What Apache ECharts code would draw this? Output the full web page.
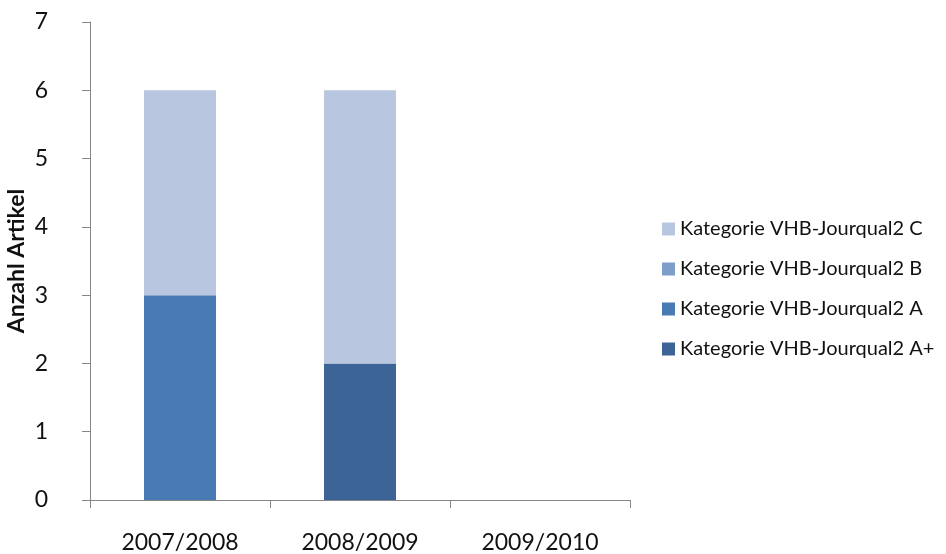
<!DOCTYPE html>
<html>
<head>
<meta charset="utf-8">
<script src="https://cdn.jsdelivr.net/npm/echarts@6/dist/echarts.min.js"></script>
<style>
  html, body { margin: 0; padding: 0; background: #fff; }
  #chart { width: 946px; height: 554px; }
</style>
</head>
<body>
<div id="chart"></div>
<script>
var categories = ['2007/2008', '2008/2009', '2009/2010'];
var seriesNames = ['Kategorie VHB-Jourqual2 A+', 'Kategorie VHB-Jourqual2 A', 'Kategorie VHB-Jourqual2 B', 'Kategorie VHB-Jourqual2 C'];
var valuesAPlus = [0, 2, 0];
var valuesA = [3, 0, 0];
var valuesB = [0, 0, 0];
var valuesC = [3, 4, 0];
var colors = ['#3d6497', '#4a7ab4', '#7e9dc9', '#b8c6df'];

var allValues = [valuesAPlus, valuesA, valuesB, valuesC];
var font = 'Lato, "Open Sans", sans-serif';

var series = seriesNames.map(function (name, i) {
  return {
    name: name,
    type: 'bar',
    stack: 'total',
    barWidth: '40%',
    data: allValues[i],
    itemStyle: { color: colors[i] }
  };
});

var chart = echarts.init(document.getElementById('chart'));
chart.setOption({
  animation: false,
  textStyle: { fontFamily: font },
  grid: { left: 90, right: 316, top: 22, bottom: 54, containLabel: false, outerBoundsMode: 'none' },
  legend: {
    data: seriesNames.slice().reverse(),
    orient: 'vertical',
    left: 657,
    top: 214,
    itemWidth: 13,
    itemHeight: 13,
    itemGap: 20,
    icon: 'rect',
    textStyle: { fontFamily: font, fontSize: 20, color: '#111' }
  },
  xAxis: {
    type: 'category',
    data: categories,
    axisLine: { lineStyle: { color: '#868686', width: 1 } },
    axisTick: { show: true, length: 8, lineStyle: { color: '#868686' } },
    axisLabel: { fontFamily: font, fontSize: 23, color: '#111', margin: 31 }
  },
  yAxis: {
    type: 'value',
    min: 0,
    max: 7,
    interval: 1,
    name: 'Anzahl Artikel',
    nameLocation: 'middle',
    nameGap: 62,
    nameMoveOverlap: false,
    nameTextStyle: { fontFamily: font, fontSize: 23, fontWeight: 'bold', color: '#111' },
    axisLine: { show: true, lineStyle: { color: '#868686', width: 1 } },
    axisTick: { show: true, length: 8, lineStyle: { color: '#868686' } },
    splitLine: { show: false },
    axisLabel: { fontFamily: font, fontSize: 23, color: '#111', margin: 42 }
  },
  series: series
});
</script>
</body>
</html>
